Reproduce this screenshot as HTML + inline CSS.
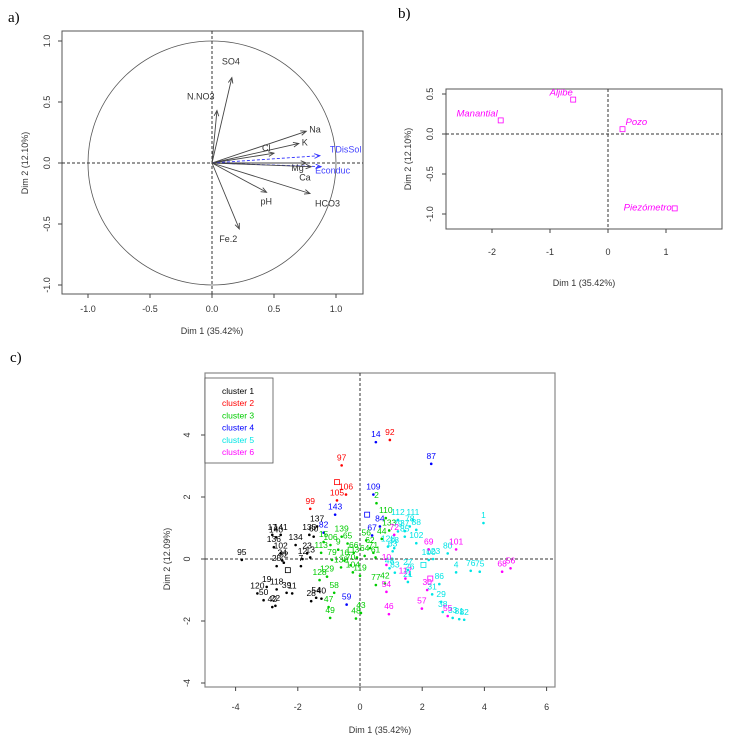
<!DOCTYPE html>
<html><head><meta charset="utf-8"><style>
body{margin:0;background:#fff;}
svg{display:block;font-family:"Liberation Sans",sans-serif;}
</style></head><body>
<svg id="s" width="737" height="743" viewBox="0 0 737 743">
<text x="8" y="22" font-family="Liberation Serif" font-size="15">a)</text>
<text x="398" y="18" font-family="Liberation Serif" font-size="15">b)</text>
<text x="10" y="362" font-family="Liberation Serif" font-size="15">c)</text>
<g id="ga"></g>
<g id="gb"></g>
<g id="gc"></g>
</svg>
<script>
// Panel a data
const varNames=["SO4","N.NO3","Na","K","Cl","TDisSol","Mg","Econduc","Ca","HCO3","pH","Fe.2"];
const varX=[0.16,0.04,0.76,0.70,0.50,0.87,0.76,0.88,0.80,0.79,0.44,0.22];
const varY=[0.70,0.43,0.26,0.16,0.08,0.06,0.00,-0.03,-0.03,-0.25,-0.24,-0.54];
const varSup=[0,0,0,0,0,1,0,1,0,0,0,0];
const aTicks=[-1,-0.5,0,0.5,1];
const aTickLabels=["-1.0","-0.5","0.0","0.5","1.0"];
// Panel b data
const typeNames=["Manantial","Aljibe","Pozo","Piezómetro"];
const typeX=[-1.85,-0.60,0.25,1.15];
const typeY=[0.17,0.43,0.06,-0.93];
const bXTicks=[-2,-1,0,1];
const bYTicks=[0.5,0,-0.5,-1];
const bYTickLabels=["0.5","0.0","-0.5","-1.0"];
// Panel c data
const clusterColors=["#000000","#ff0000","#00cc00","#0000ff","#00e5e5","#ff00ff"];
const ptLabel=["95","17","140","141","136","102","134","137","135","60","25","24","32","7","23","12","13","19","118","120","50","42","22","39","11","28","54","40",
"92","97","106","105","99",
"14","87","109","143","82","84","67","59",
"2","110","133","139","15","106","65","62","71","61","47","49","48","43","58","129","128","77","42","138","104","119","79","56","66","9","3","64","113","16","44","70",
"1","111","112","78","88","79","37","85","102","128","18","63","80","100","123","4","76","75","27","26","83","48","86","31","29","38","33","81","82","21",
"72","69","101","68","56","10","117","30","57","54","46","55"];
const ptCluster=[1,1,1,1,1,1,1,1,1,1,1,1,1,1,1,1,1,1,1,1,1,1,1,1,1,1,1,1,
2,2,2,2,2,
4,4,4,4,4,4,4,4,
3,3,3,3,3,3,3,3,3,3,3,3,3,3,3,3,3,3,3,3,3,3,3,3,3,3,3,3,3,3,3,3,
5,5,5,5,5,5,5,5,5,5,5,5,5,5,5,5,5,5,5,5,5,5,5,5,5,5,5,5,5,5,
6,6,6,6,6,6,6,6,6,6,6,6];
const ptX=[-3.8,-2.82,-2.7,-2.55,-2.77,-2.55,-2.07,-1.38,-1.63,-1.49,-2.68,-2.5,-2.45,-1.9,-1.7,-1.85,-1.6,-3.0,-2.68,-3.3,-3.1,-2.82,-2.72,-2.36,-2.18,-1.57,-1.41,-1.24,
0.96,-0.59,-0.45,-0.74,-1.6,
0.51,2.29,0.43,-0.8,-1.17,0.64,0.39,-0.43,
0.53,0.83,0.94,-0.59,-1.17,-0.95,-0.4,0.32,0.43,0.5,-1.01,-0.96,-0.13,0.03,-0.83,-1.06,-1.3,0.51,0.8,-0.61,-0.23,0.0,-0.9,0.2,-0.2,-0.7,-0.1,0.15,-1.25,-0.5,0.7,-0.3,
3.97,1.7,1.22,1.6,1.81,1.22,1.44,1.44,1.81,0.9,1.1,1.05,2.82,2.21,2.35,3.09,3.56,3.85,1.54,1.6,1.12,0.95,2.55,2.32,2.61,2.66,2.98,3.19,3.35,1.54,
1.1,2.21,3.09,4.57,4.84,0.85,1.46,2.16,1.99,0.85,0.93,2.82];
const ptY=[-0.03,0.78,0.7,0.78,0.38,0.18,0.45,1.05,0.78,0.72,-0.23,-0.05,-0.12,-0.23,0.18,0.0,0.05,-0.9,-0.98,-1.11,-1.33,-1.55,-1.51,-1.09,-1.11,-1.36,-1.25,-1.28,
3.84,3.02,2.08,1.89,1.62,
3.77,3.07,2.08,1.43,0.85,1.05,0.76,-1.47,
1.8,1.32,0.92,0.72,0.55,0.45,0.5,0.35,0.2,0.05,-1.55,-1.9,-1.92,-1.74,-1.09,-0.57,-0.68,-0.84,-0.79,-0.27,-0.43,-0.54,-0.03,0.6,0.2,0.3,0.05,0.1,0.2,-0.05,0.65,-0.2,
1.16,1.26,1.26,1.05,0.94,0.89,0.9,0.72,0.51,0.4,0.35,0.25,0.18,-0.03,0.0,-0.43,-0.38,-0.41,-0.36,-0.5,-0.44,-0.3,-0.81,-1.14,-1.38,-1.71,-1.9,-1.94,-1.96,-0.74,
0.78,0.31,0.31,-0.41,-0.3,-0.19,-0.63,-1.0,-1.6,-1.06,-1.78,-1.84];
const centerCluster=[1,2,3,4,5,6];
const centerX=[-2.32,-0.74,-0.3,0.23,2.04,2.26];
const centerY=[-0.36,2.48,0.3,1.43,-0.19,-0.63];
const cXTicks=[-4,-2,0,2,4,6];
const cYTicks=[4,2,0,-2,-4];

const NS="http://www.w3.org/2000/svg";
function mk(parent,tag,attrs,text){const e=document.createElementNS(NS,tag);for(const k in attrs)e.setAttribute(k,attrs[k]);if(text!==undefined)e.textContent=text;parent.appendChild(e);return e;}
const axisCol="#444",txtCol="#333";

// ===== Panel A =====
const ga=document.getElementById('ga');
const ax=v=>212+v*124, ay=v=>163-v*122;
let e;
e=mk(ga,'rect',{x:62,y:31,width:301,height:263,fill:'none',stroke:'#555','stroke-width':1});


e=mk(ga,'ellipse',{cx:ax(0),cy:ay(0),rx:124,ry:122,fill:'none',stroke:'#555','stroke-width':0.8});


mk(ga,'line',{x1:62,x2:363,y1:ay(0),y2:ay(0),stroke:'#333','stroke-dasharray':'3,2'});
mk(ga,'line',{x1:ax(0),x2:ax(0),y1:31,y2:294,stroke:'#333','stroke-dasharray':'3,2'});
aTicks.forEach((t,i)=>{
  mk(ga,'line',{x1:ax(t),x2:ax(t),y1:294,y2:298,stroke:axisCol});
  e=mk(ga,'text',{x:ax(t),y:312,'font-size':9,'text-anchor':'middle',fill:txtCol},aTickLabels[i]);
  
  
  mk(ga,'line',{x1:58,x2:62,y1:ay(t),y2:ay(t),stroke:axisCol});
  e=mk(ga,'text',{x:0,y:0,'font-size':9,'text-anchor':'middle',fill:txtCol,transform:`translate(50,${ay(t)}) rotate(-90)`},aTickLabels[i]);
  
  
});
e=mk(ga,'text',{x:212,y:334,'font-size':9,'text-anchor':'middle',fill:txtCol},'Dim 1 (35.42%)');


e=mk(ga,'text',{x:0,y:0,'font-size':9,'text-anchor':'middle',fill:txtCol,transform:'translate(28,163) rotate(-90)'},'Dim 2 (12.10%)');


const labOff={"SO4":[-10,-13],"N.NO3":[-30,-11],"Na":[3,1],"K":[3,2],"Cl":[-12,-2],"TDisSol":[10,-3],"Mg":[-15,8],"Econduc":[-6,7],"Ca":[-12,14],"HCO3":[5,13],"pH":[-6,12],"Fe.2":[-20,13]};
varNames.forEach((n,i)=>{
  const x2=ax(varX[i]),y2=ay(varY[i]);
  const col=varSup[i]?'#3333ff':'#444';
  e=mk(ga,'line',{x1:ax(0),y1:ay(0),x2:x2,y2:y2,stroke:col,'stroke-width':0.9,'stroke-dasharray':varSup[i]?'3,2':''});
  
  
  const ang=Math.atan2(y2-ay(0),x2-ax(0));
  const hl=6;
  mk(ga,'path',{d:`M${x2-hl*Math.cos(ang-0.4)},${y2-hl*Math.sin(ang-0.4)} L${x2},${y2} L${x2-hl*Math.cos(ang+0.4)},${y2-hl*Math.sin(ang+0.4)}`,fill:'none',stroke:col,'stroke-width':0.9});
  const o=labOff[n]||[3,0];
  e=mk(ga,'text',{x:x2+o[0],y:y2+o[1],'font-size':9,fill:varSup[i]?'#4444ff':'#333'},n);
  
  
});

// ===== Panel B =====
const gb=document.getElementById('gb');
const bx=v=>608+v*58, by=v=>134-v*80;
e=mk(gb,'rect',{x:446,y:89,width:276,height:140,fill:'none',stroke:'#555'});


mk(gb,'line',{x1:446,x2:722,y1:by(0),y2:by(0),stroke:'#333','stroke-dasharray':'3,2'});
mk(gb,'line',{x1:bx(0),x2:bx(0),y1:89,y2:229,stroke:'#333','stroke-dasharray':'3,2'});
bXTicks.forEach(t=>{
  mk(gb,'line',{x1:bx(t),x2:bx(t),y1:229,y2:233,stroke:axisCol});
  e=mk(gb,'text',{x:bx(t),y:255,'font-size':9,'text-anchor':'middle',fill:txtCol},String(t));
  
  
});
bYTicks.forEach((t,i)=>{
  mk(gb,'line',{x1:442,x2:446,y1:by(t),y2:by(t),stroke:axisCol});
  e=mk(gb,'text',{x:0,y:0,'font-size':9,'text-anchor':'middle',fill:txtCol,transform:`translate(433,${by(t)}) rotate(-90)`},bYTickLabels[i]);
  
  
});
e=mk(gb,'text',{x:584,y:286,'font-size':9,'text-anchor':'middle',fill:txtCol},'Dim 1 (35.42%)');


e=mk(gb,'text',{x:0,y:0,'font-size':9,'text-anchor':'middle',fill:txtCol,transform:'translate(411,159) rotate(-90)'},'Dim 2 (12.10%)');


typeNames.forEach((n,i)=>{
  const x=bx(typeX[i]),y=by(typeY[i]);
  e=mk(gb,'rect',{x:x-2.5,y:y-2.5,width:5,height:5,fill:'none',stroke:'#ff00ff','stroke-width':0.8});
  
  
  const left=(i==0||i==3);
  e=mk(gb,'text',{x:left?x-3:x-12+ (i==2?15:0),y:y-4+(i==3?6:0)+(i==2?0:0),'font-size':9.5,'font-style':'italic','text-anchor':left?'end':(i==2?'start':'middle'),fill:'#ff00ff'},n);
  
  
});

// ===== Panel C =====
const gc=document.getElementById('gc');
const cx=v=>360+v*31.1, cy=v=>559-v*31;
e=mk(gc,'rect',{x:205,y:373,width:350,height:314,fill:'none',stroke:'#888','stroke-width':1.2});


mk(gc,'line',{x1:205,x2:555,y1:cy(0),y2:cy(0),stroke:'#333','stroke-dasharray':'3,2'});
mk(gc,'line',{x1:cx(0),x2:cx(0),y1:373,y2:687,stroke:'#333','stroke-dasharray':'3,2'});
cXTicks.forEach(t=>{
  mk(gc,'line',{x1:cx(t),x2:cx(t),y1:687,y2:691,stroke:axisCol});
  e=mk(gc,'text',{x:cx(t),y:710,'font-size':9,'text-anchor':'middle',fill:txtCol},String(t));
  
  
});
cYTicks.forEach(t=>{
  mk(gc,'line',{x1:201,x2:205,y1:cy(t),y2:cy(t),stroke:axisCol});
  e=mk(gc,'text',{x:0,y:0,'font-size':9,'text-anchor':'middle',fill:txtCol,transform:`translate(190,${cy(t)}) rotate(-90)`},String(t));
  
  
});
e=mk(gc,'text',{x:380,y:733,'font-size':9,'text-anchor':'middle',fill:txtCol},'Dim 1 (35.42%)');


e=mk(gc,'text',{x:0,y:0,'font-size':9,'text-anchor':'middle',fill:txtCol,transform:'translate(170,559) rotate(-90)'},'Dim 2 (12.09%)');


ptX.forEach((v,i)=>{
  const col=clusterColors[ptCluster[i]-1];
  const x=cx(v),y=cy(ptY[i]);
  e=mk(gc,'circle',{cx:x,cy:y,r:1.3,fill:col});
  
  
  e=mk(gc,'text',{x:x,y:y-5,'font-size':8.5,'text-anchor':'middle',fill:col},ptLabel[i]);
  
  
});
centerX.forEach((v,i)=>{
  e=mk(gc,'rect',{x:cx(v)-2.5,y:cy(centerY[i])-2.5,width:5,height:5,fill:'none',stroke:clusterColors[centerCluster[i]-1],'stroke-width':0.8});
  
  
});
e=mk(gc,'rect',{x:205,y:378,width:68,height:85,fill:'#fff',stroke:'#555','stroke-width':0.8});


clusterColors.forEach((c,i)=>{
  e=mk(gc,'text',{x:222,y:394+i*12.2,'font-size':8.5,fill:c},'cluster '+(i+1));
  
  
});
</script>
</body></html>
